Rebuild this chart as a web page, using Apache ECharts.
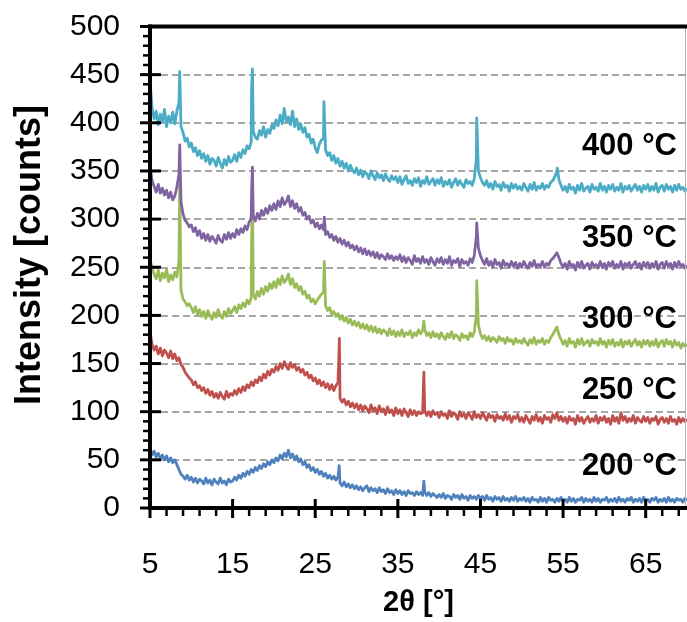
<!DOCTYPE html>
<html>
<head>
<meta charset="utf-8">
<script src="https://cdn.jsdelivr.net/npm/echarts@6/dist/echarts.min.js"></script>
<style>
  html, body { margin: 0; padding: 0; background: #fff; }
  #chart { width: 687px; height: 622px; }
</style>
</head>
<body>
<div id="chart"></div>
<script>
// Diffraction patterns (2θ = 5°…70°, one reading every 0.25°) for five annealing temperatures.
// Sharp reflections are kept in separate [2θ, counts] lists and merged in.
const seriesNames = ['200 °C', '250 °C', '300 °C', '350 °C', '400 °C'];

const xMajor = [5, 15, 25, 35, 45, 55, 65];
const xMinor = [7, 9, 11, 13, 17, 19, 21, 23, 27, 29, 31, 33, 37, 39, 41, 43, 47, 49, 51, 53, 57, 59, 61, 63, 67, 69];

// one row per 5° of 2θ
const counts200 = [
  62, 55, 59, 53, 57, 51, 55, 50, 54, 48, 52, 47, 50, 45, 40, 35, 33, 30, 34, 29,
  32, 27, 31, 26, 30, 28, 25, 31, 26, 29, 24, 30, 27, 25, 31, 26, 28, 24, 30, 27,
  28, 32, 29, 34, 31, 36, 33, 38, 35, 40, 37, 42, 39, 44, 41, 46, 43, 48, 45, 50,
  47, 52, 49, 55, 51, 57, 53, 60, 52, 56, 50, 54, 48, 51, 45, 48, 42, 45, 39, 42,
  37, 40, 35, 38, 33, 36, 31, 34, 30, 33, 29, 32, 26, 23, 27, 22, 25, 21, 24, 20,
  23, 19, 22, 18, 21, 23, 17, 21, 18, 20, 16, 21, 17, 19, 15, 20, 16, 18, 14, 19,
  15, 18, 14, 17, 13, 18, 15, 16, 13, 17, 14, 16, 13, 17, 13, 16, 12, 15, 13, 11,
  14, 11, 15, 10, 13, 12, 9, 14, 11, 13, 9, 14, 10, 12, 8, 13, 10, 12, 9, 13,
  10, 12, 8, 13, 9, 11, 7, 12, 9, 11, 7, 12, 8, 10, 7, 11, 8, 12, 7, 10,
  8, 11, 7, 10, 6, 11, 8, 9, 6, 11, 7, 10, 6, 11, 8, 9, 6, 10, 7, 11,
  7, 9, 6, 11, 7, 10, 6, 9, 8, 11, 6, 10, 7, 9, 6, 11, 7, 10, 6, 9,
  8, 11, 6, 9, 7, 10, 6, 11, 7, 9, 6, 10, 8, 11, 6, 9, 7, 10, 6, 11,
  7, 9, 6, 10, 8, 11, 6, 9, 7, 10, 6, 11, 7, 9, 6, 10, 8, 9, 6, 10,
  8
];
const peaks200 = [[27.9, 44], [38.15, 28]];

const counts250 = [
  183, 170, 164, 168, 160, 166, 158, 164, 161, 156, 163, 155, 160, 153, 156, 149, 146, 141, 138, 135,
  133, 128, 131, 125, 127, 122, 125, 119, 123, 117, 121, 115, 119, 114, 120, 116, 113, 121, 115, 119,
  117, 122, 118, 124, 120, 126, 122, 128, 125, 131, 127, 133, 130, 136, 132, 139, 135, 142, 138, 144,
  141, 147, 143, 150, 145, 152, 147, 144, 151, 146, 149, 143, 146, 141, 144, 138, 141, 135, 138, 132,
  135, 129, 133, 127, 131, 125, 129, 123, 128, 122, 127, 130, 114, 110, 113, 107, 111, 105, 109, 104,
  108, 102, 107, 101, 106, 103, 99, 107, 101, 104, 98, 106, 100, 103, 97, 105, 99, 102, 96, 104,
  98, 102, 96, 103, 99, 95, 102, 97, 101, 96, 100, 98, 99, 101, 96, 100, 95, 101, 97, 99,
  94, 100, 96, 98, 93, 101, 95, 99, 97, 92, 100, 95, 98, 93, 99, 96, 92, 100, 94, 97,
  93, 99, 95, 91, 98, 94, 96, 90, 97, 93, 95, 91, 98, 92, 96, 89, 95, 93, 97, 90,
  94, 89, 96, 92, 88, 95, 91, 97, 90, 94, 88, 96, 92, 94, 89, 97, 93, 99, 91, 95,
  90, 94, 88, 95, 91, 93, 87, 96, 90, 94, 88, 92, 95, 89, 93, 90, 96, 88, 94, 91,
  95, 89, 93, 87, 96, 90, 94, 88, 99, 91, 95, 89, 93, 90, 96, 88, 94, 91, 89, 95,
  90, 94, 88, 93, 91, 95, 87, 92, 94, 89, 93, 88, 95, 90, 92, 87, 94, 89, 93, 90,
  92
];
const peaks250 = [[27.85, 152], [27.92, 176], [38.15, 141]];

const counts300 = [
  258, 250, 243, 238, 247, 236, 244, 239, 248, 235, 242, 237, 245, 240, 256, 226, 217, 214, 210, 212,
  208, 203, 209, 201, 206, 199, 204, 197, 205, 200, 196, 203, 198, 206, 200, 197, 204, 199, 207, 202,
  205, 209, 203, 211, 207, 213, 209, 216, 212, 218, 222, 217, 225, 220, 228, 222, 230, 225, 233, 228,
  235, 229, 238, 232, 241, 234, 237, 243, 232, 238, 229, 233, 226, 230, 222, 225, 218, 221, 214, 217,
  212, 216, 219, 222, 224, 210, 205, 208, 201, 204, 199, 202, 196, 200, 194, 198, 192, 196, 190, 194,
  189, 193, 187, 191, 186, 190, 184, 189, 183, 188, 182, 186, 181, 185, 183, 179, 186, 180, 184, 178,
  183, 179, 185, 178, 182, 180, 184, 177, 182, 179, 185, 181, 184, 186, 179, 182, 177, 183, 178, 181,
  176, 182, 178, 175, 181, 177, 183, 176, 180, 178, 174, 181, 177, 179, 175, 182, 178, 183, 200, 190,
  181, 176, 179, 174, 178, 173, 177, 175, 172, 178, 174, 176, 171, 177, 173, 175, 170, 176, 172, 174,
  171, 176, 172, 169, 175, 171, 177, 170, 174, 172, 176, 170, 174, 172, 177, 180, 184, 188, 180, 175,
  170, 174, 168, 176, 171, 173, 167, 175, 170, 176, 169, 172, 174, 168, 175, 171, 173, 169, 176, 170,
  173, 167, 174, 170, 175, 168, 172, 169, 175, 167, 173, 170, 174, 168, 172, 175, 169, 173, 167, 174,
  170, 174, 168, 173, 169, 175, 167, 172, 174, 168, 175, 170, 173, 167, 174, 169, 172, 166, 171, 168,
  170
];
const peaks300 = [[8.6, 335], [17.3, 280], [17.4, 330], [26.1, 256], [38.15, 194], [44.55, 236], [54.3, 190]];

const counts350 = [
  356, 340, 334, 328, 336, 327, 332, 325, 330, 322, 328, 320, 324, 333, 346, 318, 305, 299, 296, 292,
  294, 287, 291, 283, 288, 280, 285, 278, 284, 277, 282, 279, 275, 283, 278, 276, 284, 279, 286, 280,
  285, 281, 289, 284, 290, 286, 293, 289, 297, 300, 303, 298, 306, 300, 309, 304, 311, 306, 314, 309,
  316, 310, 319, 313, 322, 315, 318, 324, 313, 319, 311, 316, 308, 312, 304, 307, 300, 303, 296, 299,
  292, 296, 290, 294, 289, 284, 287, 281, 284, 278, 282, 276, 280, 274, 278, 272, 276, 270, 273, 268,
  272, 266, 270, 264, 269, 263, 267, 262, 266, 260, 265, 259, 263, 261, 258, 264, 259, 262, 257, 261,
  258, 263, 256, 261, 255, 260, 257, 253, 262, 256, 259, 254, 261, 255, 258, 253, 260, 256, 252, 259,
  255, 260, 253, 258, 254, 261, 252, 257, 255, 259, 251, 258, 254, 256, 252, 259, 255, 262, 282, 270,
  262, 257, 253, 259, 252, 256, 250, 258, 253, 255, 249, 257, 252, 254, 250, 256, 251, 255, 249, 254,
  250, 256, 252, 249, 255, 251, 257, 250, 253, 251, 256, 250, 254, 252, 257, 259, 262, 265, 260, 254,
  250, 254, 248, 256, 251, 253, 247, 255, 250, 256, 249, 252, 254, 248, 255, 251, 253, 249, 256, 250,
  254, 248, 255, 251, 256, 249, 253, 250, 256, 248, 254, 251, 255, 249, 253, 256, 250, 254, 248, 255,
  251, 255, 249, 254, 250, 256, 248, 253, 255, 249, 256, 251, 254, 248, 255, 250, 256, 251, 253, 249,
  252
];
const peaks350 = [[8.6, 377], [17.3, 330], [17.4, 354], [26.1, 302], [44.55, 296], [54.35, 267]];

const counts400 = [
  444, 416, 404, 412, 398, 409, 401, 414, 396, 407, 400, 411, 399, 412, 421, 396, 390, 381, 384, 375,
  379, 370, 374, 366, 371, 363, 368, 360, 366, 357, 363, 361, 355, 364, 358, 353, 362, 356, 365, 359,
  361, 367, 360, 369, 364, 372, 368, 376, 373, 380, 391, 385, 383, 392, 387, 396, 385, 393, 389, 398,
  394, 403, 397, 408, 399, 415, 401, 406, 398, 412, 396, 404, 393, 399, 390, 395, 385, 388, 379, 383,
  374, 369, 378, 382, 384, 372, 366, 369, 361, 366, 358, 363, 355, 360, 353, 358, 350, 356, 351, 348,
  353, 346, 351, 344, 349, 347, 342, 350, 345, 341, 348, 343, 346, 340, 347, 342, 339, 345, 341, 344,
  338, 344, 336, 341, 345, 337, 340, 335, 342, 338, 343, 334, 340, 337, 344, 336, 339, 342, 335, 341,
  337, 343, 334, 339, 336, 341, 333, 338, 342, 335, 340, 336, 333, 341, 337, 339, 335, 342, 362, 350,
  343, 338, 335, 340, 333, 337, 331, 339, 334, 336, 330, 338, 333, 335, 329, 337, 332, 336, 331, 334,
  330, 337, 333, 329, 336, 331, 338, 330, 334, 332, 337, 331, 335, 333, 338, 340, 344, 350, 341, 335,
  330, 334, 328, 336, 331, 333, 327, 335, 330, 337, 329, 332, 334, 328, 336, 331, 333, 329, 337, 330,
  334, 328, 335, 331, 336, 329, 333, 330, 337, 328, 334, 331, 335, 329, 333, 336, 330, 334, 328, 335,
  331, 336, 329, 334, 330, 337, 328, 333, 335, 329, 336, 331, 334, 328, 335, 330, 336, 331, 333, 329,
  332
];
const peaks400 = [[8.6, 453], [17.3, 436], [17.4, 456], [26.05, 422], [44.55, 405], [54.3, 353]];

// 2θ positions of the regular scan readings
const twoTheta = [];
for (let i = 0; i < counts200.length; i++) twoTheta.push(5 + 0.25 * i);

function buildSeries(base, peaks) {
  const pts = base.map((v, i) => [twoTheta[i], v]);
  peaks.forEach(p => pts.push([p[0], p[1]]));
  pts.sort((a, b) => a[0] - b[0]);
  return pts;
}

const colors = ['#4F81BD', '#C0504D', '#9BBB59', '#8064A2', '#4BACC6'];
const allCounts = [counts200, counts250, counts300, counts350, counts400];
const allPeaks = [peaks200, peaks250, peaks300, peaks350, peaks400];

const FONT = '"Liberation Sans", Arial, sans-serif';
const black = '#000';

const chart = echarts.init(document.getElementById('chart'), null, { renderer: 'canvas' });

const series = seriesNames.map((name, k) => ({
  name: name,
  type: 'line',
  showSymbol: false,
  symbol: 'none',
  smooth: false,
  z: 3 + k,
  lineStyle: { color: colors[k], width: 2.8, join: 'round' },
  data: buildSeries(allCounts[k], allPeaks[k])
}));

chart.setOption({
  animation: false,
  backgroundColor: '#fff',
  grid: { left: 150, right: -4, top: 26.5, bottom: 113.5, show: false },
  xAxis: {
    type: 'value', min: 5, max: 70,
    axisLine: { show: false },
    axisTick: { show: false },
    splitLine: { show: false },
    axisLabel: { customValues: xMajor, margin: 42, fontSize: 30, fontFamily: FONT, color: black },
    name: '2θ [°]',
    nameLocation: 'middle',
    nameGap: 80,
    nameTextStyle: { fontSize: 29, fontWeight: 'bold', fontFamily: FONT, color: black }
  },
  yAxis: {
    type: 'value', min: 0, max: 500, interval: 50,
    axisLine: { show: false },
    axisTick: { show: false },
    axisLabel: { margin: 30, fontSize: 30, fontFamily: FONT, color: black },
    splitLine: { show: true, lineStyle: { color: '#8a8a8a', width: 1.6, type: [7, 4] } }
  },
  series: series
});

// Frame, axis lines and tick marks, placed through the grid's own coordinate system
const origin = chart.convertToPixel({ gridIndex: 0 }, [5, 0]);
const corner = chart.convertToPixel({ gridIndex: 0 }, [70, 500]);
const x0 = origin[0], y0 = origin[1], yTop = corner[1];

function seg(x1, y1, x2, y2, w, color) {
  return { type: 'line', z: 10, silent: true,
    shape: { x1: x1, y1: y1, x2: x2, y2: y2 },
    style: { stroke: color || black, lineWidth: w } };
}

const frame = [];
frame.push(seg(685.5, yTop, 685.5, y0, 1, '#b0b0b0'));
frame.push(seg(x0 - 2, yTop, 687, yTop, 4));
frame.push(seg(x0, yTop - 2, x0, y0 + 2, 4));
frame.push(seg(x0 - 2, y0, 687, y0, 4));

for (let v = 0; v <= 500; v += 10) {
  const py = chart.convertToPixel({ yAxisIndex: 0 }, v);
  if (v % 50 === 0) frame.push(seg(x0 - 10, py, x0 + 11, py, 3));
  else frame.push(seg(x0 - 7, py, x0, py, 2.5));
}
xMajor.forEach(v => {
  const px = chart.convertToPixel({ xAxisIndex: 0 }, v);
  frame.push(seg(px, y0 - 9, px, y0 + 10, 3));
});
xMinor.forEach(v => {
  const px = chart.convertToPixel({ xAxisIndex: 0 }, v);
  frame.push(seg(px, y0, px, y0 + 8, 2.5));
});

// Axis title and temperature captions
const captionY = [468, 392, 321, 240, 148];
const captions = seriesNames.map((name, k) => ({
  type: 'text',
  right: 10,
  top: captionY[k] - 17,
  z: 20,
  style: { text: name, font: 'bold 31px ' + FONT, fill: black }
}));

chart.setOption({
  graphic: frame.concat([
    {
      type: 'text',
      x: 30,
      y: 255,
      rotation: Math.PI / 2,
      z: 20,
      style: {
        text: 'Intensity [counts]',
        font: 'bold 36px ' + FONT,
        fill: black,
        textAlign: 'center',
        textVerticalAlign: 'middle'
      }
    }
  ]).concat(captions)
});
</script>
</body>
</html>
